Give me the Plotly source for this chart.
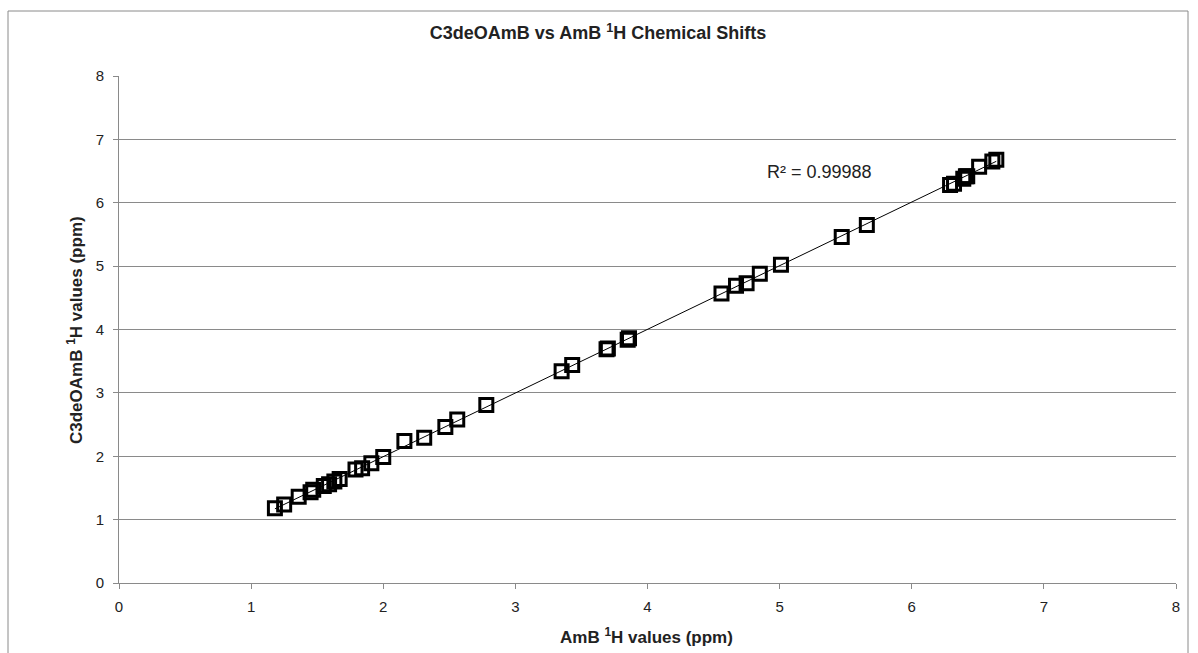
import numpy as np
import plotly.graph_objects as go

# AmB 1H chemical shifts (ppm)
amb_x = [1.18, 1.25, 1.36, 1.45, 1.47, 1.55, 1.59, 1.63, 1.67, 1.79, 1.84, 1.91, 2.00,
         2.16, 2.31, 2.47, 2.56, 2.78, 3.35, 3.43, 3.69, 3.70, 3.85, 3.86,
         4.56, 4.67, 4.75, 4.85, 5.01, 5.47, 5.66,
         6.29, 6.32, 6.39, 6.41, 6.42, 6.51, 6.61, 6.64]
# C3deOAmB 1H chemical shifts (ppm)
c3_y = [1.18, 1.24, 1.36, 1.43, 1.47, 1.53, 1.56, 1.60, 1.64, 1.79, 1.81, 1.89, 1.99,
        2.24, 2.29, 2.46, 2.58, 2.81, 3.34, 3.44, 3.69, 3.70, 3.84, 3.86,
        4.57, 4.69, 4.73, 4.88, 5.02, 5.46, 5.65,
        6.28, 6.30, 6.38, 6.42, 6.42, 6.57, 6.65, 6.68]

r2_label = "R² = 0.99988"
title_text = "C3deOAmB vs AmB <sup>1</sup>H Chemical Shifts"
x_title = "AmB <sup>1</sup>H values (ppm)"
y_title = "C3deOAmB <sup>1</sup>H values (ppm)"

xa = np.array(amb_x)
ya = np.array(c3_y)
m, b = np.polyfit(xa, ya, 1)
fit_x = [xa.min(), xa.max()]
fit_y = [m * v + b for v in fit_x]

FONT = "Liberation Sans, Arial, sans-serif"
GRID = "#8a8a8a"

fig = go.Figure()
fig.add_trace(go.Scatter(
    x=fit_x, y=fit_y, mode="lines",
    line=dict(color="black", width=1), showlegend=False, hoverinfo="skip"))
fig.add_trace(go.Scatter(
    x=amb_x, y=c3_y, mode="markers",
    marker=dict(symbol="square-open", size=13, color="black",
                line=dict(color="black", width=3)),
    showlegend=False))

fig.update_layout(
    width=1198, height=653,
    margin=dict(l=119, r=22, t=76, b=70),
    paper_bgcolor="white", plot_bgcolor="white",
    font=dict(family=FONT, size=15, color="#222"),
    title=dict(text=title_text, x=598 / 1198, xanchor="center",
               y=1 - 33 / 653, yanchor="middle", yref="container", xref="container",
               font=dict(family=FONT, size=18, color="#222", weight="bold")),
    xaxis=dict(range=[0, 8], dtick=1, showgrid=False, zeroline=False,
               showline=True, linecolor=GRID, linewidth=1,
               ticks="outside", ticklen=5, tickcolor=GRID,
               ticklabelstandoff=5, tickfont=dict(size=15, color="#222")),
    yaxis=dict(range=[0, 8], dtick=1, showgrid=True, gridcolor=GRID, gridwidth=1,
               zeroline=False, showline=True, linecolor=GRID, linewidth=1,
               ticks="outside", ticklen=5, tickcolor=GRID,
               ticklabelstandoff=6, tickfont=dict(size=15, color="#222")),
    showlegend=False,
)

fig.add_annotation(text=x_title, xref="paper", yref="paper",
                   x=(646 - 119) / 1057, y=-(636 - 583) / 507,
                   xanchor="center", yanchor="middle", showarrow=False,
                   font=dict(family=FONT, size=17, color="#222", weight="bold"))
fig.add_annotation(text=y_title, xref="paper", yref="paper",
                   x=(75 - 119) / 1057, y=(583 - 330) / 507, textangle=-90,
                   xanchor="center", yanchor="middle", showarrow=False,
                   font=dict(family=FONT, size=17, color="#222", weight="bold"))
fig.add_annotation(text=r2_label, xref="x", yref="y",
                   x=4.89, y=6.48, xanchor="left", yanchor="middle",
                   showarrow=False, font=dict(family=FONT, size=18, color="#222"))

# outer chart border
fig.add_shape(type="rect", xref="paper", yref="paper",
              x0=(8 - 119) / 1057, x1=(1188 - 119) / 1057,
              y0=-(660 - 583) / 507, y1=1 + (76 - 11) / 507,
              line=dict(color=GRID, width=1), layer="below")

fig.write_html("out.html")
